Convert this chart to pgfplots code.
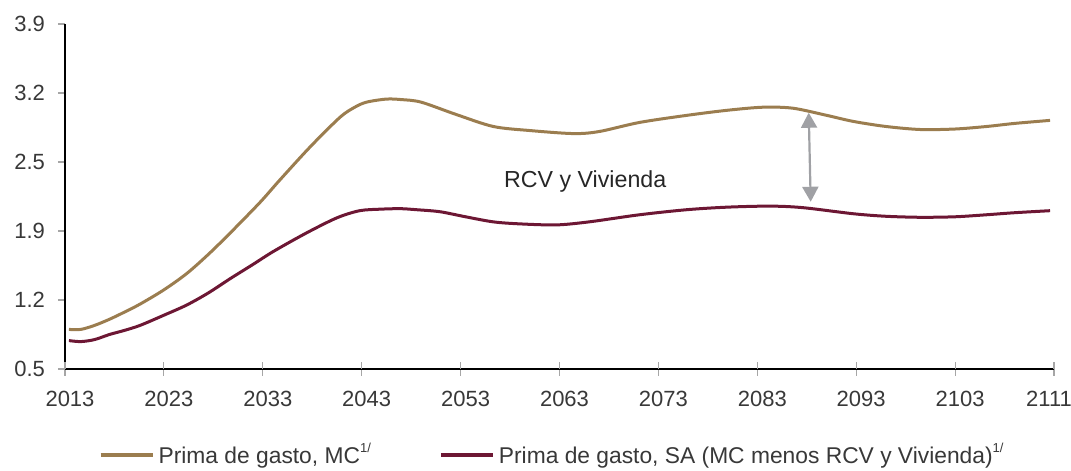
\documentclass[border=0pt]{standalone}
\usepackage{pgfplots}
\pgfplotsset{compat=1.18}
\usepackage{pgfplotstable}
\usepackage{fontspec}
\setmainfont{Liberation Sans}
\usetikzlibrary{arrows.meta}
\definecolor{gold}{HTML}{9B7D4F}
\definecolor{maroon}{HTML}{6D1734}
\definecolor{arrgray}{HTML}{A0A1A5}
\definecolor{tickgray}{HTML}{A6A6A6}
\definecolor{textgray}{HTML}{383838}
\newcommand{\supnote}{\raisebox{0.9ex}{\fontsize{6.5}{7}\selectfont 1/}}

\pgfplotstableread{
year val
2013.4 0.89
2014.6 0.89
2016.0 0.93
2017.5 0.99
2019.0 1.06
2020.6 1.14
2023.0 1.28
2025.3 1.44
2027.5 1.63
2029.7 1.84
2032.7 2.14
2034.7 2.36
2037.8 2.69
2040.8 2.98
2042.3 3.08
2043.5 3.13
2045.5 3.16
2047.0 3.155
2049.0 3.13
2052.5 3.01
2056.3 2.89
2060.0 2.85
2064.4 2.82
2067.0 2.84
2071.1 2.93
2075.9 3.00
2080.0 3.05
2083.6 3.08
2086.6 3.07
2090.0 3.00
2092.7 2.94
2096.0 2.89
2099.5 2.86
2103.0 2.865
2106.2 2.89
2109.0 2.92
2112.6 2.95
}\mc

\pgfplotstableread{
year val
2013.4 0.78
2014.6 0.77
2016.0 0.79
2017.5 0.84
2019.0 0.88
2020.6 0.93
2023.0 1.03
2025.3 1.13
2027.5 1.25
2029.7 1.39
2032.0 1.53
2034.1 1.66
2037.4 1.84
2040.5 1.99
2042.8 2.06
2044.9 2.075
2046.9 2.08
2048.5 2.07
2050.9 2.05
2053.5 2.00
2056.3 1.95
2059.0 1.93
2062.7 1.92
2066.0 1.95
2071.1 2.02
2075.9 2.07
2080.0 2.095
2084.3 2.105
2087.6 2.09
2092.7 2.03
2096.0 2.005
2099.5 1.995
2103.0 2.00
2106.2 2.02
2109.0 2.04
2112.6 2.06
}\sa

\begin{document}
\begin{tikzpicture}
\begin{axis}[
  scale only axis,
  width=494.5pt, height=172.5pt,
  xmin=2013, xmax=2113, ymin=0.5, ymax=3.9,
  axis x line*=bottom, axis y line*=left,
  axis line style={black, line width=0.6pt},
  xtick={2013,2023,...,2113},
  xticklabels={2013,2023,2033,2043,2053,2063,2073,2083,2093,2103,\makebox[0pt][c]{\hspace*{-10pt}2111}},
  ytick={0.5,1.18,1.86,2.54,3.22,3.9},
  yticklabels={0.5,1.2,1.9,2.5,3.2,3.9},
  tick align=outside,
  major tick length=3.5pt,
  tick style={draw=tickgray, line width=0.6pt},
  extra x ticks={2013,2023,...,2113},
  extra x tick labels={},
  extra x tick style={tick align=inside},
  tick label style={font=\fontsize{11}{13}\selectfont, text=textgray},
  xticklabel style={xshift=2.5pt, yshift=-3.8pt},
  yticklabel style={xshift=-3pt},
  legend style={draw=none, fill=none, inner sep=0pt, at={(0.4935,-0.249)}, anchor=center,
    font=\fontsize{11.4}{13}\selectfont, text=textgray,
    /tikz/every even column/.append style={column sep=32pt}},
  legend columns=2,
  legend image code/.code={\draw[#1, line width=2pt] (0pt,0pt) -- (26pt,0pt);},
]
\addplot[gold, line width=1.5pt, smooth, tension=0.5] table[x=year, y=val] {\mc};
\addlegendentry{Prima de gasto, MC\supnote}
\addplot[maroon, line width=1.5pt, smooth, tension=0.5] table[x=year, y=val] {\sa};
\addlegendentry{Prima de gasto, SA (MC menos RCV y Vivienda)\supnote}
\draw[arrgray, line width=1.1pt, {Triangle[width=8pt,length=7.5pt]}-{Triangle[width=8pt,length=7.5pt]}]
  (axis cs:2088.2,3.025) -- (axis cs:2088.4,2.148);
\node[font=\fontsize{11.6}{14}\selectfont, text=black!85] at (axis cs:2065.6,2.35) {RCV y Vivienda};
\coordinate (bl) at (rel axis cs:0,0);
\coordinate (tr) at (rel axis cs:1,1);
\end{axis}
\path ([shift={(-32.5pt,-49.5pt)}]bl) rectangle ([shift={(8.5pt,12pt)}]tr);
\end{tikzpicture}
\end{document}
